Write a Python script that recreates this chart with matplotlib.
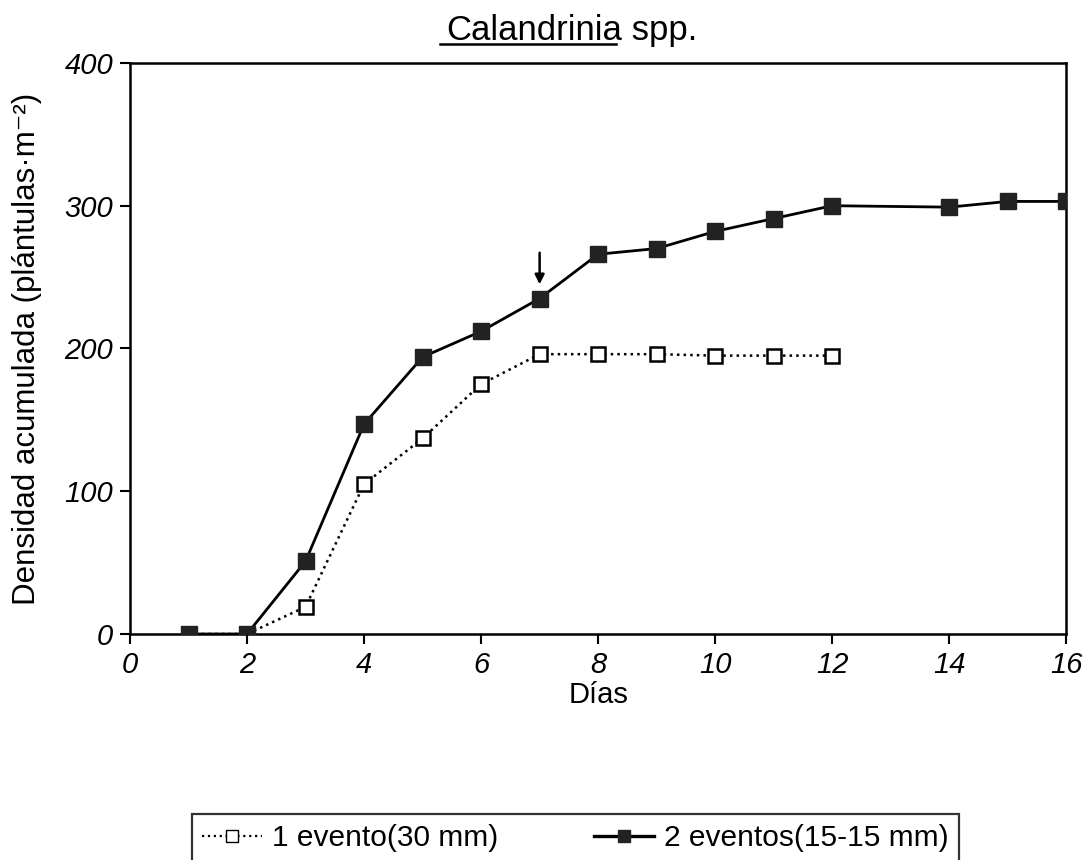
import matplotlib
matplotlib.use('Agg')
import matplotlib.pyplot as plt
from matplotlib.lines import Line2D

plt.rcParams['font.family'] = ['Liberation Sans', 'DejaVu Sans']

# datos
dias_1 = [1, 2, 3, 4, 5, 6, 7, 8, 9, 10, 11, 12]
dens_1 = [0, 0, 19, 105, 137, 175, 196, 196, 196, 195, 195, 195]
dias_2 = [1, 2, 3, 4, 5, 6, 7, 8, 9, 10, 11, 12, 14, 15, 16]
dens_2 = [0, 0, 51, 147, 194, 212, 235, 266, 270, 282, 291, 300, 299, 303, 303]
label_1 = '1 evento(30 mm)'
label_2 = '2 eventos(15-15 mm)'
x_ticks = [0, 2, 4, 6, 8, 10, 12, 14, 16]
y_ticks = [0, 100, 200, 300, 400]

fig = plt.figure(figsize=(10.88, 8.6), dpi=100)
ax = fig.add_axes([0.1195, 0.2628, 0.8605, 0.664])

ax.plot(dias_1, dens_1, color='black', linestyle=':', linewidth=1.8,
        marker='s', markersize=10, markerfacecolor='white',
        markeredgecolor='black', markeredgewidth=1.8, label=label_1, zorder=2)
ax.plot(dias_2, dens_2, color='black', linestyle='-', linewidth=2.0,
        marker='s', markersize=11.5, markerfacecolor='#222222',
        markeredgecolor='#222222', label=label_2, zorder=3)

# flecha sobre el dia 7
ax.annotate('', xy=(7, dens_2[6] + 8), xytext=(7, dens_2[6] + 34),
            arrowprops=dict(arrowstyle='-|>', color='black', lw=1.8,
                            mutation_scale=14))

ax.set_xlim(0, 16)
ax.set_ylim(0, 400)
ax.set_xticks(x_ticks)
ax.set_yticks(y_ticks)
ax.set_xticklabels([str(t) for t in x_ticks], fontstyle='italic', fontsize=21)
ax.set_yticklabels([str(t) for t in y_ticks], fontstyle='italic', fontsize=21)
ax.tick_params(direction='out', length=7, width=1.5, pad=5)
for sp in ax.spines.values():
    sp.set_linewidth(1.8)

ax.set_xlabel('Días', fontsize=21, labelpad=2)
ax.set_ylabel('Densidad acumulada (plántulas·m⁻²)', fontsize=22.5, labelpad=0)
ax.yaxis.set_label_coords(-0.094, 0.5)

# titulo con "Calandrinia" subrayado
t1 = fig.text(0.572, 0.953, 'Calandrinia', fontsize=25, ha='right', va='baseline')
t2 = fig.text(0.572, 0.953, ' spp.', fontsize=25, ha='left', va='baseline')
fig.canvas.draw()
bb = t1.get_window_extent().transformed(fig.transFigure.inverted())
fig.add_artist(Line2D([bb.x0 - 0.006, bb.x1 - 0.006], [0.949, 0.949],
                      color='black', linewidth=1.8, transform=fig.transFigure))

h = [Line2D([], [], color='black', linestyle=':', linewidth=1.6, marker='s',
            markersize=9, markerfacecolor='white', markeredgecolor='black'),
     Line2D([], [], color='black', linestyle='-', linewidth=2.4, marker='s',
            markersize=9, markerfacecolor='#222222', markeredgecolor='#222222')]
leg = fig.legend(h, [label_1, label_2], loc='upper center',
                 bbox_to_anchor=(0.529, 0.0535), borderaxespad=0,
                 ncol=2, fontsize=21.5, frameon=True, fancybox=False,
                 edgecolor='black', handlelength=2.0, columnspacing=3.2,
                 borderpad=0.35, handletextpad=0.35)
leg.get_frame().set_linewidth(1.6)

fig.savefig('out.png', dpi=100)
